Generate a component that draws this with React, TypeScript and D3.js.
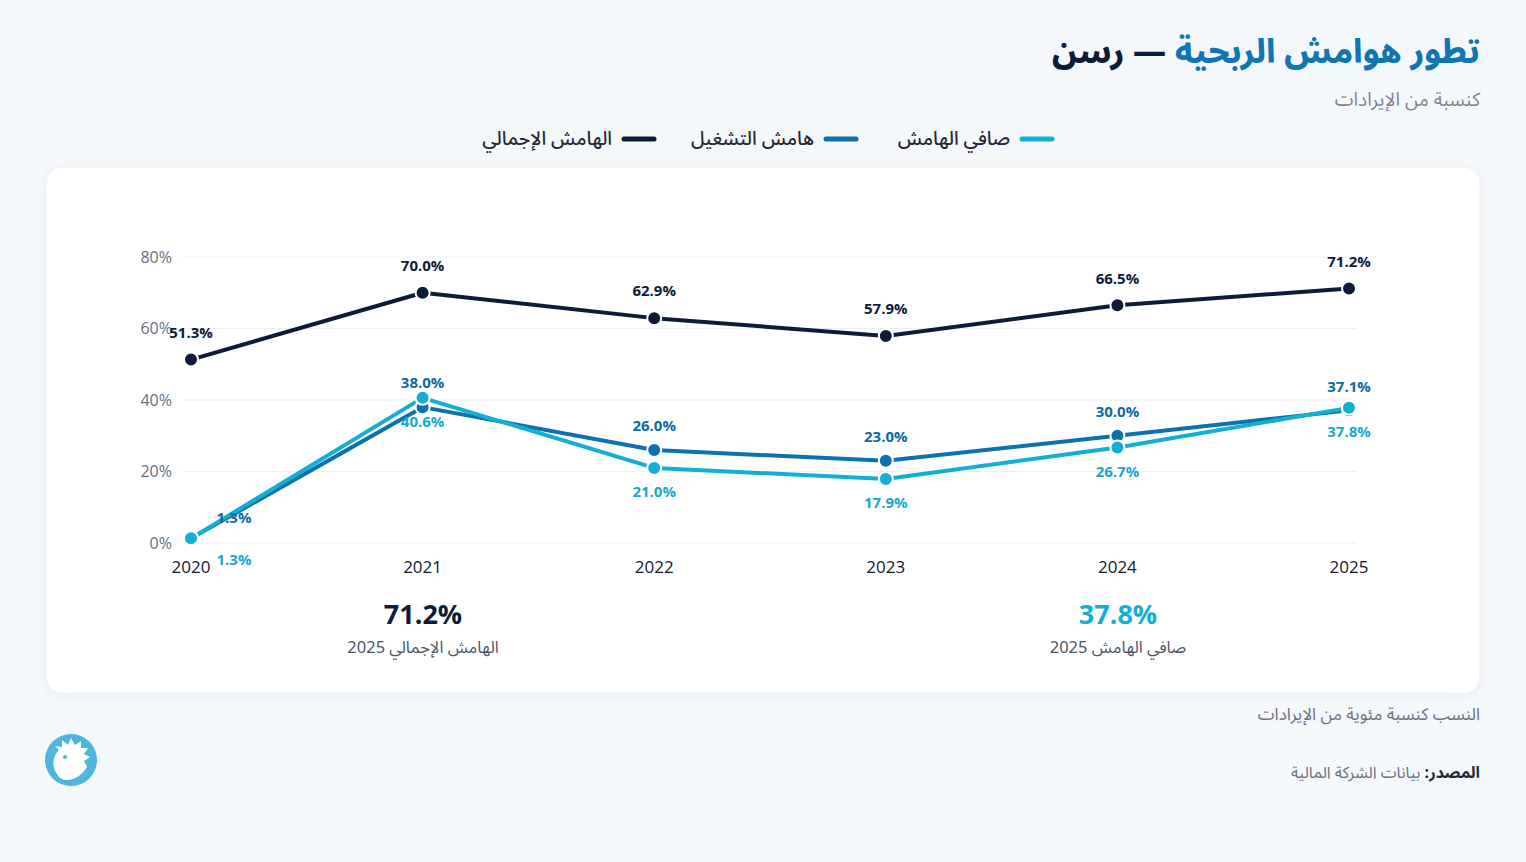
import React from "react";
import * as d3 from "d3";

const years = ["2020", "2021", "2022", "2023", "2024", "2025"];
const grossMargin = [51.3, 70.0, 62.9, 57.9, 66.5, 71.2];
const operatingMargin = [1.3, 38.0, 26.0, 23.0, 30.0, 37.1];
const netMargin = [1.3, 40.6, 21.0, 17.9, 26.7, 37.8];
const yTicks = [0, 20, 40, 60, 80];

const NAVY = "#0c1c36";
const BLUE = "#0b72ad";
const CYAN = "#13afd3";
const GRAY = "#667085";

const AR_FONT = "'Noto Sans Arabic', 'Noto Sans', 'DejaVu Sans', sans-serif";
const NUM_FONT = "'Open Sans', 'Noto Sans', sans-serif";

const series = [
  { name: "الهامش الإجمالي", values: grossMargin, color: NAVY, labelColor: NAVY, below: false, off: 27 },
  { name: "هامش التشغيل", values: operatingMargin, color: BLUE, labelColor: "#0a6aa3", below: false, off: 24 },
  { name: "صافي الهامش", values: netMargin, color: CYAN, labelColor: "#17a8cb", below: true, off: 24 },
];

// legend right edges (RTL order)
const legend = [
  { s: series[2], right: 1052 },
  { s: series[1], right: 856 },
  { s: series[0], right: 654 },
];

const App: React.FC = () => {
  const width = 1526;
  const height = 862;

  const x = d3.scalePoint<string>().domain(years).range([191, 1349]);
  const y = d3.scaleLinear().domain([0, 80]).range([543, 257]);

  const line = d3
    .line<number>()
    .x((_, i) => x(years[i])!)
    .y((d) => y(d));

  return (
    <svg
      width={width}
      height={height}
      style={{ position: "absolute", left: 0, top: 0, display: "block" }}
    >
      <defs>
        <filter id="cardShadow" x="-5%" y="-5%" width="110%" height="115%">
          <feDropShadow dx="0" dy="2" stdDeviation="4" floodColor="#1e3a5f" floodOpacity="0.06" />
        </filter>
      </defs>
      <rect x={0} y={0} width={width} height={height} fill="#f5f8fb" />

      {/* title */}
      <text
        x={1480}
        y={63}
        direction="rtl"
        textAnchor="start"
        fontFamily={AR_FONT}
        fontSize={33}
        fontWeight={800}
      >
        <tspan fill="#0f76b3">تطور هوامش الربحية</tspan>
        <tspan fill={NAVY}> — رسن</tspan>
      </text>
      <text x={1480} y={106} direction="rtl" textAnchor="start" fontFamily={AR_FONT} fontSize={19} fill="#7b8593">
        كنسبة من الإيرادات
      </text>

      {/* legend */}
      {legend.map(({ s, right }) => (
        <g key={s.name}>
          <line x1={right - 30} x2={right} y1={139} y2={139} stroke={s.color} strokeWidth={5} strokeLinecap="round" />
          <text
            x={right - 42}
            y={145}
            direction="rtl"
            textAnchor="start"
            fontFamily={AR_FONT}
            fontSize={19}
            fontWeight={500}
            fill="#1f2937"
          >
            {s.name}
          </text>
        </g>
      ))}

      {/* card */}
      <rect x={46} y={167} width={1434} height={526} rx={16} fill="#ffffff" stroke="#eef1f5" filter="url(#cardShadow)" />

      {/* grid + y axis */}
      {yTicks.map((t) => (
        <g key={t}>
          <line x1={183} x2={1357} y1={y(t)} y2={y(t)} stroke="#eceff3" strokeWidth={1.2} />
          <text
            x={172}
            y={y(t)}
            dy="0.35em"
            textAnchor="end"
            fontFamily={NUM_FONT}
            fontSize={16}
            fill={GRAY}
          >
            {t}%
          </text>
        </g>
      ))}

      {/* x axis labels */}
      {years.map((yr) => (
        <text
          key={yr}
          x={x(yr)}
          y={567}
          dy="0.35em"
          textAnchor="middle"
          fontFamily={NUM_FONT}
          fontSize={17}
          fontWeight={500}
          fill="#111827"
        >
          {yr}
        </text>
      ))}

      {/* lines */}
      {series.map((s) => (
        <path
          key={s.name}
          d={line(s.values) || ""}
          fill="none"
          stroke={s.color}
          strokeWidth={4}
          strokeLinejoin="round"
          strokeLinecap="round"
        />
      ))}

      {/* markers */}
      {series.map((s) => (
        <g key={s.name + "-pts"}>
          {s.values.map((v, i) => (
            <circle key={i} cx={x(years[i])} cy={y(v)} r={7} fill={s.color} stroke="#ffffff" strokeWidth={2} />
          ))}
        </g>
      ))}

      {/* value labels */}
      {series.map((s, si) => (
        <g key={s.name + "-lbl"}>
          {s.values.map((v, i) => {
            const shifted = i === 0 && si > 0;
            const off = shifted ? 21 : s.off;
            return (
              <text
                key={i}
                x={x(years[i])! + (shifted ? 43 : 0)}
                y={y(v) + (s.below ? off : -off)}
                dy="0.35em"
                textAnchor="middle"
                fontFamily={NUM_FONT}
                fontSize={15}
                fontWeight={700}
                fill={s.labelColor}
              >
                {v.toFixed(1)}%
              </text>
            );
          })}
        </g>
      ))}

      {/* KPI */}
      <text x={423} y={624} textAnchor="middle" fontFamily={NUM_FONT} fontSize={27} fontWeight={700} fill={NAVY}>
        {grossMargin[5].toFixed(1)}%
      </text>
      <text x={423} y={653} direction="rtl" textAnchor="middle" fontFamily={AR_FONT} fontSize={16.5} fill="#4b5563">
        الهامش الإجمالي 2025
      </text>
      <text x={1118} y={624} textAnchor="middle" fontFamily={NUM_FONT} fontSize={27} fontWeight={700} fill={CYAN}>
        {netMargin[5].toFixed(1)}%
      </text>
      <text x={1118} y={653} direction="rtl" textAnchor="middle" fontFamily={AR_FONT} fontSize={16.5} fill="#4b5563">
        صافي الهامش 2025
      </text>

      {/* footer */}
      <text x={1480} y={720} direction="rtl" textAnchor="start" fontFamily={AR_FONT} fontSize={17} fill="#6b7280">
        النسب كنسبة مئوية من الإيرادات
      </text>
      <text x={1480} y={778} direction="rtl" textAnchor="start" fontFamily={AR_FONT} fontSize={16} fill="#6b7280">
        <tspan fontWeight={700} fill="#1f2937">المصدر:</tspan>
        <tspan> بيانات الشركة المالية</tspan>
      </text>

      {/* logo */}
      <g transform="translate(71,760)">
        <circle r={26} fill="#4db6df" />
        <path
          d="M-14,14 C-20,6 -18,-4 -12,-10 L-16,-14 L-9,-13 L-9,-20 L-3,-15 L0,-22 L4,-15 L10,-19 L10,-12 L17,-12 L13,-6 L19,-3 L13,1 L16,7 C12,14 4,20 -4,20 C-8,20 -12,18 -14,14 Z"
          fill="#ffffff"
        />
        <circle cx={-6} cy={-3} r={2} fill="#4db6df" />
      </g>
    </svg>
  );
};

export default App;
